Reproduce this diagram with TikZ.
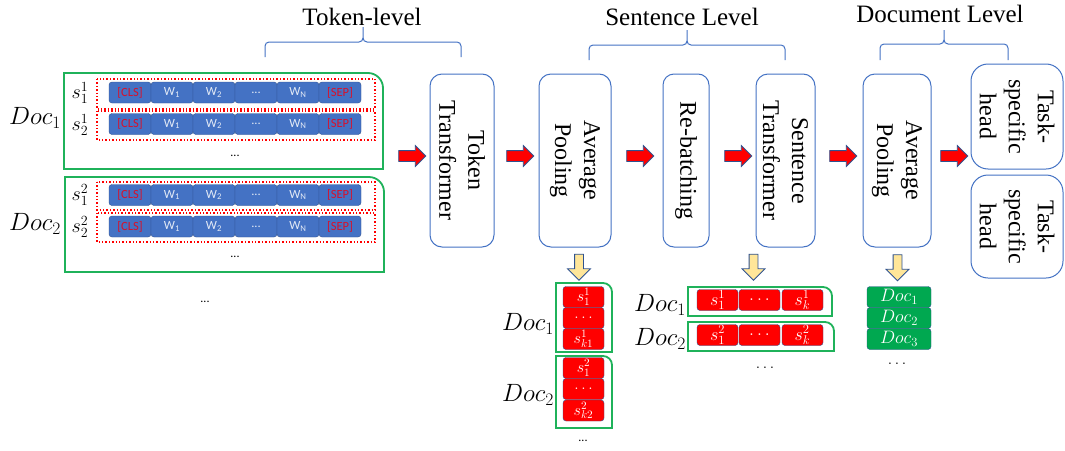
\RequirePackage{fix-cm}
\documentclass[tikz,border=0pt]{standalone}
\usepackage[no-math]{fontspec}
\setmainfont{Liberation Serif}
\newfontfamily\calfont{Carlito}
\usetikzlibrary{shapes.arrows}
\definecolor{offblue}{HTML}{4472C4}
\definecolor{darkblue}{HTML}{2F528F}
\definecolor{gline}{HTML}{1FB25A}
\definecolor{gfill}{HTML}{00A850}
\definecolor{clsred}{HTML}{D8102A}
\definecolor{yel}{HTML}{FFE699}
\newcommand{\levbrace}[6]{%
\draw[bracestyle] (#1,#5) -- (#1,#4+4) .. controls (#1,#4+1.8) and (#1+1.8,#4) .. (#1+4,#4) -- (#3-4,#4) .. controls (#3-1.8,#4) and (#3,#4-1.8) .. (#3,#4-4) -- (#3,#6);
\draw[bracestyle] (#2,#5) -- (#2,#4+4) .. controls (#2,#4+1.8) and (#2-1.8,#4) .. (#2-4,#4) -- (#3+4,#4) .. controls (#3+1.8,#4) and (#3,#4-1.8) .. (#3,#4-4);}
% group box with rounded top-right corner: x1,y1,x2,y2,r
\newcommand{\grpbox}[5]{%
\draw[grpline] (#1,#4) -- (#1,#2) -- (#3-#5,#2) .. controls (#3-0.45*#5,#2) and (#3,#2+0.45*#5) .. (#3,#2+#5) -- (#3,#4) -- cycle;}
\tikzset{
  bracestyle/.style={draw=offblue, line width=1pt},
  grpline/.style={draw=gline, line width=1.8pt},
  dotrow/.style={draw=red, dotted, line width=1.4pt},
  tok/.style={draw=darkblue, fill=offblue, rounded corners=3pt, minimum width=42, minimum height=21, inner sep=0pt, font=\calfont\fontsize{12.5}{12.5}\selectfont, text=white!85!offblue},
  clstok/.style={tok, text=clsred},
  procbox/.style={draw=offblue, line width=1pt, fill=white, align=center, font=\fontsize{24}{29}\selectfont, rotate=-90, inner sep=0pt},
  rarrow/.style={single arrow, draw=darkblue, fill=red, line width=0.8pt, minimum height=27, minimum width=0pt, inner xsep=0pt, inner ysep=5pt, single arrow head extend=5pt},
  yarrow/.style={single arrow, draw=darkblue, fill=yel, line width=0.8pt, minimum height=26, minimum width=0pt, inner xsep=0pt, inner ysep=4pt, single arrow head extend=7pt, rotate=-90},
  rbox/.style={draw=darkblue, fill=red, rounded corners=3pt, minimum width=41, minimum height=21, inner sep=0pt, text=white, font=\fontsize{18}{18}\selectfont},
  rboxv/.style={rbox, font=\fontsize{16}{16}\selectfont},
  gbox/.style={draw=darkblue, fill=gfill, rounded corners=3pt, minimum width=64, minimum height=21, inner sep=0pt, text=white, font=\fontsize{18}{18}\selectfont},
  biglab/.style={font=\fontsize{25}{25}\selectfont, inner sep=0pt},
  slab/.style={font=\fontsize{20}{20}\selectfont, inner sep=0pt},
  lvl/.style={font=\fontsize{25}{25}\selectfont, inner sep=0pt, anchor=base},
  smalldots/.style={font=\calfont\fontsize{12}{12}\selectfont, inner sep=0pt},
  mdots/.style={font=\fontsize{16}{16}\selectfont, inner sep=0pt}
}
\begin{document}
\begin{tikzpicture}[x=1pt, y=-1pt]
\fill[white] (0,0) rectangle (1065,450);
\useasboundingbox (0,0) rectangle (1065,450);

% level labels and braces
\node[lvl] (tl) at (362,25) {Token-level};
\node[lvl] (sl) at (682,25) {Sentence Level};
\node[lvl] (dl) at (940,22) {Document Level};
\levbrace{265}{461}{363}{42}{57}{27}
\levbrace{589}{785}{687}{45}{60}{30}
\levbrace{880}{1008}{944}{44}{60}{30}

% input documents
\grpbox{64}{73}{383}{169}{15}
\grpbox{65}{177}{384}{272}{15}
\draw[dotrow] (97,79) rectangle (375,109);
\draw[dotrow] (97,111) rectangle (375,140);
\draw[dotrow] (97,182) rectangle (375,210);
\draw[dotrow] (97,213) rectangle (375,242);
\foreach \r/\yy in {a/92.5, b/124, c/195, d/226.5} {
  \node[clstok] (\r cls) at (130,\yy) {[CLS]};
  \node[tok] (\r wa) at (172,\yy) {W\textsubscript{1}};
  \node[tok] (\r wb) at (214,\yy) {W\textsubscript{2}};
  \node[tok] (\r wd) at (256,\yy) {...};
  \node[tok] (\r wn) at (298,\yy) {W\textsubscript{N}};
  \node[clstok] (\r sep) at (340,\yy) {[SEP]};
}
\node[slab] (s11) at (80,93) {$s_1^1$};
\node[slab] (s21) at (80,125) {$s_2^1$};
\node[slab] (s12) at (80,195) {$s_1^2$};
\node[slab] (s22) at (80,227) {$s_2^2$};
\node[biglab] (doc1) at (35,118) {$Doc_1$};
\node[biglab] (doc2) at (35,224) {$Doc_2$};
\node[smalldots] (dd1) at (235,156) {...};
\node[smalldots] (dd2) at (235,257) {...};
\node[smalldots] (dd3) at (205,302) {...};

% processing boxes
\node[procbox, rounded corners=12pt, minimum width=173, minimum height=64] (tt) at (462,160.5) {Token\\Transformer};
\node[procbox, rounded corners=12pt, minimum width=173, minimum height=72] (ap1) at (575,160.5) {Average\\Pooling};
\node[procbox, rounded corners=11pt, minimum width=173, minimum height=46] (rb) at (686,160.5) {Re-batching};
\node[procbox, rounded corners=12pt, minimum width=173, minimum height=59] (st) at (785.5,160.5) {Sentence\\Transformer};
\node[procbox, rounded corners=12pt, minimum width=173, minimum height=68] (ap2) at (897,160.5) {Average\\Pooling};
\node[procbox, rounded corners=17pt, minimum width=105, minimum height=92] (th1) at (1017,116.5) {Task-\\specific\\head};
\node[procbox, rounded corners=17pt, minimum width=103, minimum height=92] (th2) at (1017,226.5) {Task-\\specific\\head};

% red arrows
\node[rarrow] (ra1) at (409.5,156) {};
\node[rarrow] (ra2) at (517.5,156) {};
\node[rarrow] (ra3) at (637.5,156) {};
\node[rarrow] (ra4) at (735.5,156) {};
\node[rarrow] (ra5) at (840.5,156) {};
\node[rarrow] (ra6) at (951.5,156) {};

% yellow arrows
\node[yarrow] (ya1) at (579,265) {};
\node[yarrow] (ya2) at (753.5,265) {};
\node[yarrow] (ya3) at (897.5,265.5) {};

% after average pooling (token -> sentence vectors)
\grpbox{556}{283}{612}{352}{9}
\grpbox{556}{356}{612}{428}{9}
\node[rboxv] (p11) at (583.5,297) {$s_1^1$};
\node[rboxv] (p12) at (583.5,318) {$\dots$};
\node[rboxv] (p13) at (583.5,339) {$s_{k1}^1$};
\node[rboxv] (p21) at (583.5,368) {$s_1^2$};
\node[rboxv] (p22) at (583.5,389) {$\dots$};
\node[rboxv] (p23) at (583.5,410.5) {$s_{k2}^2$};
\node[biglab] (pd1) at (528,324) {$Doc_1$};
\node[biglab] (pd2) at (528,395) {$Doc_2$};
\node[smalldots] (pdd) at (583,441) {...};

% after sentence transformer
\grpbox{688}{287}{832}{316}{9}
\grpbox{688}{322}{834}{351}{9}
\node[rbox] (q11) at (717.5,300) {$s_1^1$};
\node[rbox] (q12) at (759.5,300) {$\dots$};
\node[rbox] (q13) at (802.5,300) {$s_k^1$};
\node[rbox] (q21) at (717.5,335) {$s_1^2$};
\node[rbox] (q22) at (759.5,335) {$\dots$};
\node[rbox] (q23) at (802.5,335) {$s_k^2$};
\node[biglab] (qd1) at (660,305) {$Doc_1$};
\node[biglab] (qd2) at (660,339) {$Doc_2$};
\node[mdots] (qdd) at (765,368) {$\dots$};

% document vectors
\node[gbox] (g1) at (899,297) {$Doc_1$};
\node[gbox] (g2) at (899,318) {$Doc_2$};
\node[gbox] (g3) at (899,339) {$Doc_3$};
\node[mdots] (gdd) at (897,364) {$\dots$};
\end{tikzpicture}
\end{document}
